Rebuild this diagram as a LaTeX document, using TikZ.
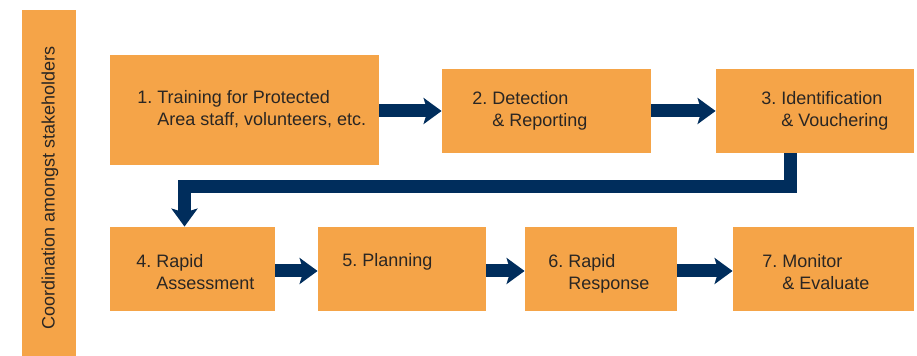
\documentclass[tikz,border=0pt]{standalone}
\usepackage{fontspec}
\setmainfont{Liberation Sans}
\usetikzlibrary{arrows.meta,calc}

\definecolor{boxorange}{HTML}{F5A448}
\definecolor{flownavy}{HTML}{002D5C}
\definecolor{labelgray}{HTML}{2A2623}

\tikzset{
  procbox/.style={fill=boxorange, inner sep=0pt, minimum height=42pt},
  proctext/.style={anchor=base west, inner sep=0pt, align=left, text=labelgray, font=\fontsize{9}{11}\selectfont\frenchspacing},
  flow/.style={line width=6.5pt, draw=flownavy, line join=miter, -{Stealth[length=9pt, width=13pt, inset=2pt]}}
}

\begin{document}
\begin{tikzpicture}[x=0.5pt, y=-0.5pt]
    \useasboundingbox (0,0) rectangle (917,356);

    \node[procbox, minimum width=27pt, minimum height=173pt] (bar) at (49,183) {};
    \node[rotate=90, text=labelgray, font=\fontsize{9}{11}\selectfont] (coord) at (50,188) {Coordination amongst stakeholders};

    \node[procbox, minimum width=134.5pt, minimum height=55pt] (b1) at (244.5,110) {};
    \node[procbox, minimum width=104.5pt] (b2) at (546.5,111) {};
    \node[procbox, minimum width=99pt] (b3) at (815,111) {};
    \node[procbox, minimum width=82.5pt] (b4) at (192.5,269) {};
    \node[procbox, minimum width=84pt] (b5) at (402,269) {};
    \node[procbox, minimum width=76pt] (b6) at (601,269) {};
    \node[procbox, minimum width=90.5pt] (b7) at (823.5,269) {};

    % base anchor of a two line label sits on its second line
    \node[proctext] (l1) at (137,126) {1. Training for Protected\\\phantom{1. }Area staff, volunteers, etc.};
    \node[proctext] (l2) at (472,127) {2. Detection\\\phantom{2. }\& Reporting};
    \node[proctext] (l3) at (761,127) {3. Identification\\\phantom{3. }\& Vouchering};
    \node[proctext] (l4) at (136,290) {4. Rapid\\\phantom{4. }Assessment};
    \node[proctext] (l5) at (342,267) {5. Planning};
    \node[proctext] (l6) at (548,290) {6. Rapid\\\phantom{6. }Response};
    \node[proctext] (l7) at (762,290) {7. Monitor\\\phantom{7. }\& Evaluate};

    \draw[flow] (b1.east |- b2.west) -- (b2.west);
    \draw[flow] (b2.east) -- (b3.west);
    \draw[flow] ($(b3.south)+(-25,0)$) -- ++(0,33) -| ($(b4.north)+(-8,0)$);
    \draw[flow] (b4.east |- 0,271) -- (b5.west |- 0,271);
    \draw[flow] (b5.east |- 0,271) -- (b6.west |- 0,271);
    \draw[flow] (b6.east |- 0,271) -- (b7.west |- 0,271);
\end{tikzpicture}
\end{document}
